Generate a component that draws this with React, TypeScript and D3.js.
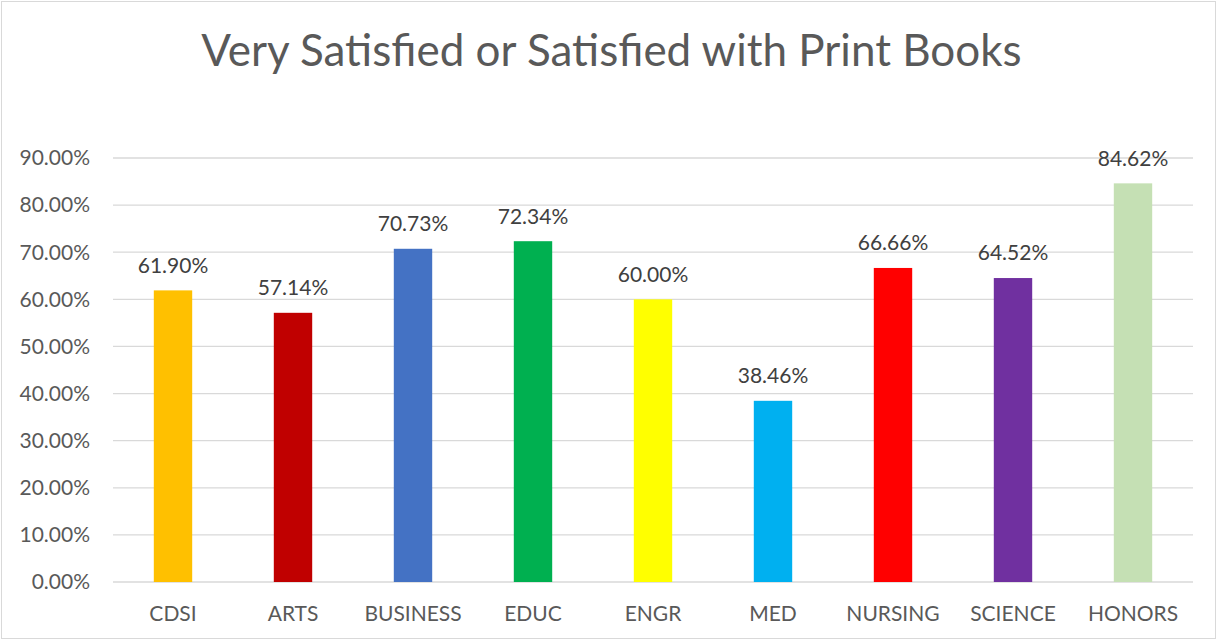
import * as d3 from 'd3';
import { useRef, useEffect } from "react"

const categories = ["CDSI", "ARTS", "BUSINESS", "EDUC", "ENGR", "MED", "NURSING", "SCIENCE", "HONORS"]
const values = [61.90, 57.14, 70.73, 72.34, 60.00, 38.46, 66.66, 64.52, 84.62]
const colors = ["#FFC000", "#C00000", "#4472C4", "#00B050", "#FFFF00", "#00B0F0", "#FF0000", "#7030A0", "#C5E0B4"]
const yTicks = [0, 10, 20, 30, 40, 50, 60, 70, 80, 90]
const title = "Very Satisfied or Satisfied with Print Books"

function App() {
    const ref = useRef<SVGSVGElement | null>(null)

    useEffect(() => {
        renderChart();
    }, [])

    function renderChart() {
        const W = 1217, H = 640
        const margin = { top: 158, right: 24, bottom: 58, left: 113 }
        const width = W - margin.left - margin.right
        const height = H - margin.top - margin.bottom
        const font = "Lato, 'Open Sans', sans-serif"

        const svg = d3.select(ref.current!)
        svg.selectAll("*").remove()

        // outer border
        svg.append("rect")
            .attr("x", 1.5).attr("y", 1.5)
            .attr("width", W - 3).attr("height", H - 3)
            .attr("fill", "#fff")
            .attr("stroke", "#d9d9d9")

        svg.append("text")
            .attr("x", W / 2 + 3)
            .attr("y", 66)
            .attr("text-anchor", "middle")
            .attr("font-family", font)
            .attr("font-size", 44)
            .attr("fill", "#595959")
            .text(title)

        const g = svg.append("g")
            .attr("transform", "translate(" + margin.left + "," + margin.top + ")")

        const x = d3.scaleBand()
            .domain(categories)
            .range([0, width])
            .paddingInner(0.68)
            .paddingOuter(0.34)

        const y = d3.scaleLinear()
            .domain([0, 90])
            .range([height, 0])

        // gridlines
        g.append("g")
            .selectAll("line")
            .data(yTicks)
            .enter()
            .append("line")
            .attr("x1", 0).attr("x2", width)
            .attr("y1", d => y(d)).attr("y2", d => y(d))
            .attr("stroke", "#d9d9d9")
            .attr("stroke-width", 1.3)

        // y tick labels
        g.append("g")
            .selectAll("text")
            .data(yTicks)
            .enter()
            .append("text")
            .attr("x", -23)
            .attr("y", d => y(d))
            .attr("dy", "0.35em")
            .attr("text-anchor", "end")
            .attr("font-family", font)
            .attr("font-size", 21)
            .attr("fill", "#595959")
            .text(d => d.toFixed(2) + "%")

        // bars
        g.append("g")
            .selectAll("rect")
            .data(values)
            .enter()
            .append("rect")
            .attr("x", (_d, i) => x(categories[i])!)
            .attr("y", d => y(d))
            .attr("width", x.bandwidth())
            .attr("height", d => height - y(d))
            .attr("fill", (_d, i) => colors[i])

        // data labels
        g.append("g")
            .selectAll("text")
            .data(values)
            .enter()
            .append("text")
            .attr("x", (_d, i) => x(categories[i])! + x.bandwidth() / 2)
            .attr("y", d => y(d) - 25)
            .attr("dy", "0.35em")
            .attr("text-anchor", "middle")
            .attr("font-family", font)
            .attr("font-size", 21)
            .attr("fill", "#404040")
            .text(d => d.toFixed(2) + "%")

        // category labels
        g.append("g")
            .selectAll("text")
            .data(categories)
            .enter()
            .append("text")
            .attr("x", d => x(d)! + x.bandwidth() / 2)
            .attr("y", height + 32)
            .attr("dy", "0.35em")
            .attr("text-anchor", "middle")
            .attr("font-family", font)
            .attr("font-size", 21)
            .attr("fill", "#595959")
            .text(d => d)
    }

    return (
        <svg
            ref={ref}
            width={1217}
            height={640}
            style={{ position: 'absolute', left: 0, top: 0 }}
        />
    )
}

export default App;
